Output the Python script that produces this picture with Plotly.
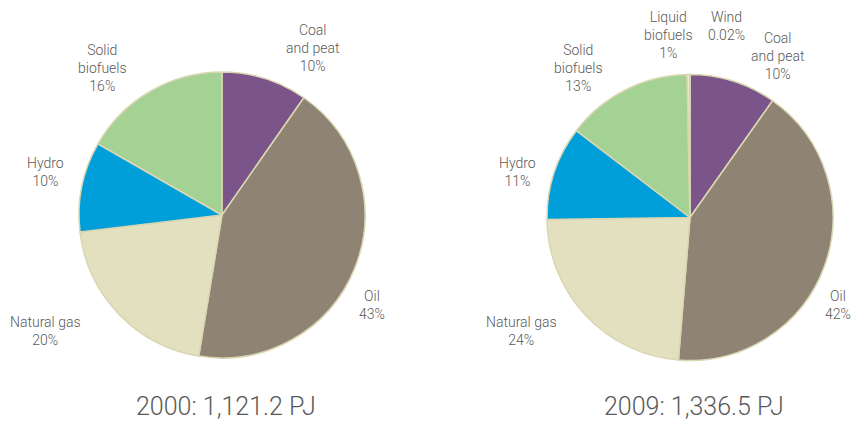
import plotly.graph_objects as go

# shares of total primary energy supply, clockwise from 12 o'clock
# (slice sizes, label percentages as printed)
labels_2000 = ["Coal<br>and peat", "Oil", "Natural gas", "Hydro", "Solid<br>biofuels"]
values_2000 = [9.7, 42.9, 20.5, 10.2, 16.7]
pct_2000 = ["10%", "43%", "20%", "10%", "16%"]

labels_2009 = ["Coal<br>and peat", "Oil", "Natural gas", "Hydro", "Solid<br>biofuels",
               "Liquid<br>biofuels", "Wind"]
values_2009 = [9.8, 41.5, 23.5, 10.6, 14.3, 0.3, 0.02]
pct_2009 = ["10%", "42%", "24%", "11%", "13%", "1%", "0.02%"]

titles = ["2000: 1,121.2 PJ", "2009: 1,336.5 PJ"]

colors = {
    "Coal<br>and peat": "#7B558A",
    "Oil": "#8F8374",
    "Natural gas": "#E2E0BF",
    "Hydro": "#009FD9",
    "Solid<br>biofuels": "#A3D294",
    "Liquid<br>biofuels": "#EDE9D2",
    "Wind": "#1F3C8C",
}

# page has an 8px body margin, so the figure starts at (8, 8) in the window
OFF = 8
W, H = 860 - 2 * OFF, 423 - OFF
TXT = "#595959"
FONT = "Roboto"


def fx(px):
    return (px - OFF) / W


def fy(py):
    return 1 - (py - OFF) / H


# label anchor points in window pixels (hand placed as in the source figure)
pos_2000 = [(312, 48), (372, 305), (45, 331), (45, 172), (102, 68)]
pos_2009 = [(777, 56), (838, 305), (521, 331), (517, 172), (578, 68), (668, 35), (726, 26)]


def add_pie(fig, labels, values, x0, x1, top, bottom):
    fig.add_trace(go.Pie(
        labels=labels,
        values=values,
        sort=False,
        direction="clockwise",
        rotation=0,
        textinfo="none",
        hoverinfo="label+percent",
        marker=dict(colors=[colors[l] for l in labels],
                    line=dict(color="#DAD6B2", width=1.5)),
        domain=dict(x=[fx(x0), fx(x1)], y=[fy(bottom), fy(top)]),
        showlegend=False,
    ))


def add_labels(fig, labels, pcts, positions):
    for lab, p, (px, py) in zip(labels, pcts, positions):
        fig.add_annotation(
            x=fx(px), y=fy(py), xref="paper", yref="paper",
            text=f"{lab}<br>{p}", showarrow=False,
            xanchor="center", yanchor="middle", align="center",
            font=dict(family=FONT, size=14, color=TXT, weight=300),
        )


fig = go.Figure()
add_pie(fig, labels_2000, values_2000, 79, 365, 72, 358)
add_pie(fig, labels_2009, values_2009, 547, 833, 74, 361)
add_labels(fig, labels_2000, pct_2000, pos_2000)
add_labels(fig, labels_2009, pct_2009, pos_2009)

for t, cx in zip(titles, [226, 694]):
    fig.add_annotation(
        x=fx(cx), y=fy(406), xref="paper", yref="paper",
        text=t, showarrow=False, xanchor="center", yanchor="middle",
        font=dict(family=FONT, size=25, color=TXT, weight=300),
    )

fig.update_layout(
    width=W, height=H,
    margin=dict(l=0, r=0, t=0, b=0),
    paper_bgcolor="white",
    plot_bgcolor="white",
)

fig.write_html("out.html")
